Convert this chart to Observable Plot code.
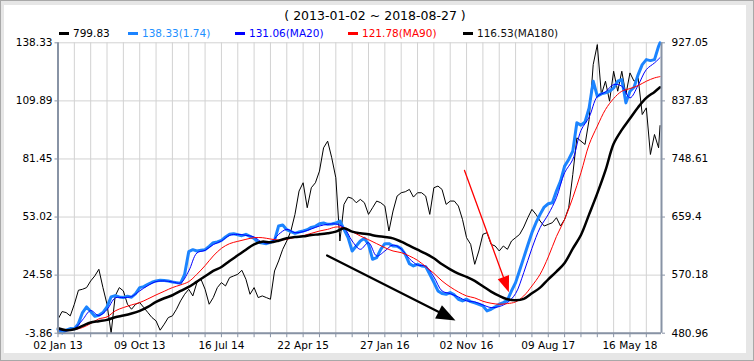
<!DOCTYPE html>
<html><head><meta charset="utf-8">
<script src="https://cdn.jsdelivr.net/npm/d3@7"></script>
<script src="https://cdn.jsdelivr.net/npm/@observablehq/plot@0.6"></script>
<style>
html,body{margin:0;padding:0;background:#fff;}
#frame{position:relative;width:752px;height:359px;background:#e6e6e6;border:1px solid #a8a8a8;overflow:hidden;font-family:"DejaVu Sans",Verdana,sans-serif;}
#panel{position:absolute;left:3px;top:4px;width:742px;height:348px;background:#fff;}
#chart{position:absolute;left:-1px;top:-1px;width:754px;}
#title{position:absolute;left:0;width:748px;top:7px;text-align:center;font-size:12.5px;line-height:15px;color:#000;}
.leg{position:absolute;top:26px;font-size:10.5px;white-space:nowrap;line-height:12px;}
.sw{display:inline-block;width:10px;height:3px;vertical-align:middle;margin-right:4px;margin-top:-2px;}
</style></head>
<body>
<div id="frame"><div id="panel"></div><div id="title"></div><div id="legend"></div><div id="chart"></div></div>
<script>
const titleText = "( 2013-01-02 ~ 2018-08-27 )";
const legendLabels = ["799.83", "138.33(1.74)", "131.06(MA20)", "121.78(MA90)", "116.53(MA180)"];

const dates14 = [
"2013-01-02","2013-01-16","2013-01-30","2013-02-13","2013-02-27","2013-03-13","2013-03-27","2013-04-10","2013-04-24","2013-05-08",
"2013-05-22","2013-06-05","2013-06-19","2013-07-03","2013-07-17","2013-07-31","2013-08-14","2013-08-28","2013-09-11","2013-09-25",
"2013-10-09","2013-10-23","2013-11-06","2013-11-20","2013-12-04","2013-12-18","2014-01-01","2014-01-15","2014-01-29","2014-02-12",
"2014-02-26","2014-03-12","2014-03-26","2014-04-09","2014-04-23","2014-05-07","2014-05-21","2014-06-04","2014-06-18","2014-07-02",
"2014-07-16","2014-07-30","2014-08-13","2014-08-27","2014-09-10","2014-09-24","2014-10-08","2014-10-22","2014-11-05","2014-11-19",
"2014-12-03","2014-12-17","2014-12-31","2015-01-14","2015-01-28","2015-02-11","2015-02-25","2015-03-11","2015-03-25","2015-04-08",
"2015-04-22","2015-05-06","2015-05-20","2015-06-03","2015-06-17","2015-07-01","2015-07-15","2015-07-29","2015-08-12","2015-08-26",
"2015-09-09","2015-09-23","2015-10-07","2015-10-21","2015-11-04","2015-11-18","2015-12-02","2015-12-16","2015-12-30","2016-01-13",
"2016-01-27","2016-02-10","2016-02-24","2016-03-09","2016-03-23","2016-04-06","2016-04-20","2016-05-04","2016-05-18","2016-06-01",
"2016-06-15","2016-06-29","2016-07-13","2016-07-27","2016-08-10","2016-08-24","2016-09-07","2016-09-21","2016-10-05","2016-10-19",
"2016-11-02","2016-11-16","2016-11-30","2016-12-14","2016-12-28","2017-01-11","2017-01-25","2017-02-08","2017-02-22","2017-03-08",
"2017-03-22","2017-04-05","2017-04-19","2017-05-03","2017-05-17","2017-05-31","2017-06-14","2017-06-28","2017-07-12","2017-07-26",
"2017-08-09","2017-08-23","2017-09-06","2017-09-20","2017-10-04","2017-10-18","2017-11-01","2017-11-15","2017-11-29","2017-12-13",
"2017-12-27","2018-01-10","2018-01-24","2018-02-07","2018-02-21","2018-03-07","2018-03-21","2018-04-04","2018-04-18","2018-05-02",
"2018-05-16","2018-05-30","2018-06-13","2018-06-27","2018-07-11","2018-07-25","2018-08-08","2018-08-22","2018-08-27"];

// thin black series, right axis units
const rawValues = [
502.43,514.19,512.66,507.55,525.44,546.92,548.45,551.01,561.23,568.90,
579.13,551.01,525.44,481.00,538.23,551.01,545.90,525.44,517.77,525.44,
528.00,520.33,512.66,504.99,499.88,485.56,494.77,504.99,507.55,517.77,
530.56,540.78,548.45,538.23,558.68,563.79,548.45,525.44,535.67,551.01,
558.68,553.56,566.35,568.90,571.46,577.60,563.79,540.78,551.01,535.67,
538.23,535.67,533.11,576.57,591.91,609.81,622.59,637.93,663.49,699.29,
712.07,673.72,704.40,712.07,729.96,765.75,775.98,750.42,719.74,622.59,
678.83,690.08,688.04,681.39,686.50,681.39,663.49,673.72,683.95,681.39,
676.28,637.93,668.61,691.62,696.73,698.26,701.84,690.08,696.73,696.73,
691.62,663.49,704.40,706.96,701.84,678.83,683.95,683.95,676.28,655.82,
627.70,617.48,586.80,607.25,632.82,635.37,617.48,614.92,607.25,614.92,
609.81,622.59,627.70,632.82,644.06,658.38,671.16,663.49,653.27,645.60,
648.16,650.71,658.38,645.60,655.82,673.72,724.85,781.09,775.98,770.87,
809.21,893.58,924.26,847.56,868.01,837.34,883.35,852.68,883.35,847.56,
880.80,868.01,873.13,816.88,827.11,755.53,786.21,765.75,799.83];

// thick light-blue series, left axis units
const blueValues = [
-2.07,-3.70,-2.39,-1.58,-1.74,0.87,6.24,9.01,6.73,4.45,
4.94,6.24,9.01,13.90,14.56,13.90,13.58,14.23,13.74,15.53,
18.47,18.96,20.10,21.07,21.73,22.05,21.89,21.73,21.24,20.91,
20.59,24.99,36.07,37.04,36.39,36.72,37.04,38.68,40.47,40.79,
41.61,43.24,44.54,44.87,44.38,43.89,44.54,43.56,42.59,40.63,
40.30,39.98,40.63,41.61,48.62,49.11,46.82,45.85,45.03,45.68,
46.17,46.82,47.96,48.45,49.76,50.08,49.43,49.59,50.08,51.06,
46.99,42.91,36.39,38.84,41.28,42.59,39.65,32.32,33.13,37.21,
39.98,39.98,38.84,38.68,37.53,34.76,30.20,29.06,29.87,29.06,
28.73,24.99,21.07,16.84,15.53,15.21,16.02,14.88,12.76,11.95,
12.76,11.62,10.97,10.32,9.50,7.06,7.87,9.01,10.32,11.13,
12.27,16.84,20.91,26.94,33.13,39.33,45.36,50.24,54.32,57.91,
59.54,60.02,65.73,70.62,77.95,81.21,85.28,99.14,98.00,99.63,
106.47,119.51,112.17,113.32,113.80,114.62,116.25,119.51,120.32,108.92,
114.62,116.57,122.77,127.66,130.10,129.61,130.10,136.62,138.33];

const dates28 = [
"2013-01-02","2013-01-30","2013-02-27","2013-03-27","2013-04-24","2013-05-22","2013-06-19","2013-07-17","2013-08-14","2013-09-11",
"2013-10-09","2013-11-06","2013-12-04","2014-01-01","2014-01-29","2014-02-26","2014-03-26","2014-04-23","2014-05-21","2014-06-18",
"2014-07-16","2014-08-13","2014-09-10","2014-10-08","2014-11-05","2014-12-03","2014-12-31","2015-01-28","2015-02-25","2015-03-25",
"2015-04-22","2015-05-20","2015-06-17","2015-07-15","2015-08-12","2015-09-09","2015-10-07","2015-11-04","2015-12-02","2015-12-30",
"2016-01-27","2016-02-24","2016-03-23","2016-04-20","2016-05-18","2016-06-15","2016-07-13","2016-08-10","2016-09-07","2016-10-05",
"2016-11-02","2016-11-30","2016-12-28","2017-01-25","2017-02-22","2017-03-22","2017-04-19","2017-05-17","2017-06-14","2017-07-12",
"2017-08-09","2017-09-06","2017-10-04","2017-11-01","2017-11-29","2017-12-27","2018-01-24","2018-02-21","2018-03-21","2018-04-18",
"2018-05-16","2018-06-13","2018-07-11","2018-08-08","2018-08-27"];

const ma20Values = [
-2.07,-2.72,-1.74,2.66,7.22,4.78,7.71,13.41,13.58,14.07,
16.84,19.44,21.40,21.73,21.24,20.75,26.62,35.42,36.72,39.49,
41.28,44.05,44.54,44.05,43.24,40.63,40.47,44.54,46.99,45.36,
45.85,47.15,48.62,49.43,49.59,47.80,41.28,37.21,40.47,33.95,
36.39,39.33,37.37,32.65,29.55,28.90,23.68,16.84,15.53,13.90,
11.95,11.46,9.99,8.69,9.18,11.13,15.53,25.80,37.70,47.80,
54.32,62.47,74.69,81.21,95.39,101.91,112.01,114.29,117.88,117.06,
111.36,117.55,125.21,128.47,131.06];

const ma90Values = [
-1.90,-2.07,-2.07,-1.09,0.87,3.15,4.13,7.06,8.69,9.99,
11.13,12.93,14.88,16.67,18.47,19.77,21.40,24.99,29.22,33.95,
37.70,39.98,41.12,42.10,42.91,42.91,42.26,41.77,42.10,43.08,
43.89,45.03,46.17,46.99,48.13,47.80,45.85,43.73,41.93,39.98,
38.02,36.39,35.58,33.95,31.83,28.73,25.47,21.73,18.79,16.35,
14.39,13.41,11.79,10.81,10.32,10.64,11.46,14.39,19.28,24.99,
33.46,43.50,51.88,62.47,74.69,88.54,97.51,105.66,111.03,114.62,
115.92,117.39,119.51,121.14,121.78];

const ma180Values = [
-1.42,-2.39,-1.90,-0.27,1.36,2.01,2.66,3.96,4.78,5.76,
7.06,9.01,11.46,13.25,14.72,16.84,18.79,21.40,24.01,26.62,
28.57,31.50,34.27,37.04,39.65,40.96,40.63,41.45,42.59,43.24,
43.56,44.22,44.54,45.03,45.85,47.48,45.85,45.03,44.54,43.73,
43.24,42.59,40.96,39.00,37.04,35.09,32.81,29.87,27.43,25.31,
23.68,21.73,19.12,16.51,14.39,12.76,12.27,12.93,15.70,18.47,
22.54,26.29,30.53,37.53,44.22,54.32,64.59,75.83,88.87,95.71,
101.26,106.80,111.36,114.29,116.53];

const leftTicks = [-3.86, 24.58, 53.02, 81.45, 109.89, 138.33];
const rightTicks = [480.96, 570.18, 659.4, 748.61, 837.83, 927.05];
const gridDates = ["2013-01-02","2013-02-27","2013-04-24","2013-06-19","2013-08-14","2013-10-09","2013-12-04","2014-01-29","2014-03-26","2014-05-21",
"2014-07-16","2014-09-10","2014-11-05","2014-12-31","2015-02-25","2015-04-22","2015-06-17","2015-08-12","2015-10-07","2015-12-02",
"2016-01-27","2016-03-23","2016-05-18","2016-07-13","2016-09-07","2016-11-02","2016-12-28","2017-02-22","2017-04-19","2017-06-14",
"2017-08-09","2017-10-04","2017-11-29","2018-01-24","2018-03-21","2018-05-16","2018-07-11"];
const labelDates = ["2013-01-02","2013-10-09","2014-07-16","2015-04-22","2016-01-27","2016-11-02","2017-08-09","2018-05-16"];
const xDomain = ["2013-01-02", "2018-09-01"];

const arrowStartDates = ["2015-07-13", "2016-10-26"];
const arrowStartValues = [34.19, 75.82];
const arrowEndDates = ["2016-09-25", "2017-03-27"];
const arrowEndValues = [2.36, 16.22];

// ---- styling ----
const C_LIGHT = "#1c84ff", C_MA20 = "#0000ff", C_MA90 = "#ff0000", C_MA180 = "#000000", C_RAW = "#000000";
const AXIS = "#8893a5", GRID = "#d2d2d2";
const legendColors = [C_RAW, C_LIGHT, C_MA20, C_MA90, C_MA180];
const legendTextColors = ["#000", "#1e90ff", "#0000ff", "#ff0000", "#111"];
const legendLeft = [58, 127, 234, 347, 462];

document.getElementById("title").textContent = titleText;
const legend = document.getElementById("legend");
legendLabels.forEach((t, i) => {
  const d = document.createElement("div");
  d.className = "leg";
  d.style.left = legendLeft[i] + "px";
  d.style.color = legendTextColors[i];
  const s = document.createElement("span");
  s.className = "sw"; s.style.background = legendColors[i];
  d.appendChild(s);
  d.appendChild(document.createTextNode(t));
  legend.appendChild(d);
});

const parse = d3.utcParse("%Y-%m-%d");
const L0 = leftTicks[0], L1 = leftTicks[leftTicks.length - 1];
const R0 = rightTicks[0], R1 = rightTicks[rightTicks.length - 1];
const toLeft = r => L0 + (r - R0) * (L1 - L0) / (R1 - R0);

const raw = dates14.map((d, i) => ({date: parse(d), v: toLeft(rawValues[i])}));
const blue = dates14.map((d, i) => ({date: parse(d), v: blueValues[i]}));
const ma20 = dates28.map((d, i) => ({date: parse(d), v: ma20Values[i]}));
const ma90 = dates28.map((d, i) => ({date: parse(d), v: ma90Values[i]}));
const ma180 = dates28.map((d, i) => ({date: parse(d), v: ma180Values[i]}));
const rightPos = rightTicks.map(toLeft);
const rightLabel = new Map(rightPos.map((p, i) => [p, String(rightTicks[i])]));
const labelFmt = d3.utcFormat("%d %b %y");
const arrows = arrowStartDates.map((d, i) => ({x1: parse(d), y1: arrowStartValues[i], x2: parse(arrowEndDates[i]), y2: arrowEndValues[i]}));

function head(angleDeg, len, hw) {
  const a = angleDeg * Math.PI / 180, c = Math.cos(a), s = Math.sin(a);
  return {draw(ctx) {
    const bx = -len * c, by = -len * s;
    ctx.moveTo(0, 0);
    ctx.lineTo(bx - hw * s, by + hw * c);
    ctx.lineTo(bx + hw * s, by - hw * c);
    ctx.closePath();
  }};
}

const chart = Plot.plot({
  width: 754, height: 353,
  marginTop: 42.3, marginBottom: 20.3, marginLeft: 57.5, marginRight: 93,
  x: {type: "utc", domain: xDomain.map(parse)},
  y: {domain: [L0, L1]},
  style: {background: "transparent", fontFamily: "DejaVu Sans, Verdana, sans-serif", fontSize: "10.5px", color: "#000", overflow: "visible"},
  marks: [
    Plot.gridY(leftTicks, {stroke: GRID, strokeOpacity: 1}),
    Plot.gridX(gridDates.map(parse), {stroke: GRID, strokeOpacity: 1}),
    Plot.line(raw, {x: "date", y: "v", stroke: C_RAW, strokeWidth: 1}),
    Plot.line(blue, {x: "date", y: "v", stroke: C_LIGHT, strokeWidth: 3, strokeLinejoin: "round"}),
    Plot.line(ma20, {x: "date", y: "v", stroke: C_MA20, strokeWidth: 1, curve: "catmull-rom"}),
    Plot.line(ma90, {x: "date", y: "v", stroke: C_MA90, strokeWidth: 1, curve: "catmull-rom"}),
    Plot.line(ma180, {x: "date", y: "v", stroke: C_MA180, strokeWidth: 2.5, curve: "catmull-rom"}),
    Plot.arrow(arrows.slice(0, 1), {x1: "x1", y1: "y1", x2: "x2", y2: "y2", headLength: 0, insetEnd: 12, stroke: "#000", strokeWidth: 2.2}),
    Plot.dot(arrows.slice(0, 1), {x: "x2", y: "y2", symbol: head(26.9, 19, 7.5), fill: "#000", stroke: "none", r: 3}),
    Plot.arrow(arrows.slice(1, 2), {x1: "x1", y1: "y1", x2: "x2", y2: "y2", headLength: 0, insetEnd: 10, stroke: "#ff0000", strokeWidth: 1.3}),
    Plot.dot(arrows.slice(1, 2), {x: "x2", y: "y2", symbol: head(70, 16, 6), fill: "#ff0000", stroke: "none", r: 3}),
    Plot.ruleX(xDomain.map(parse), {stroke: AXIS, strokeWidth: 2}),
    Plot.ruleY([L0], {stroke: AXIS, strokeWidth: 2}),
    Plot.axisY(leftTicks, {anchor: "left", tickSize: 3, tickPadding: 2.5, stroke: AXIS, fill: "#000", tickFormat: d => String(d), label: null}),
    Plot.axisY(rightPos, {anchor: "right", tickSize: 3, tickPadding: 7, stroke: AXIS, fill: "#000", tickFormat: d => rightLabel.get(d), label: null}),
    Plot.axisX(gridDates.map(parse), {tickSize: 4.5, stroke: AXIS, tickFormat: () => "", label: null}),
    Plot.axisX(labelDates.map(parse), {tickSize: 0, tickPadding: 8.5, fill: "#000", tickFormat: labelFmt, label: null})
  ]
});
document.getElementById("chart").appendChild(chart);
</script>
</body></html>
